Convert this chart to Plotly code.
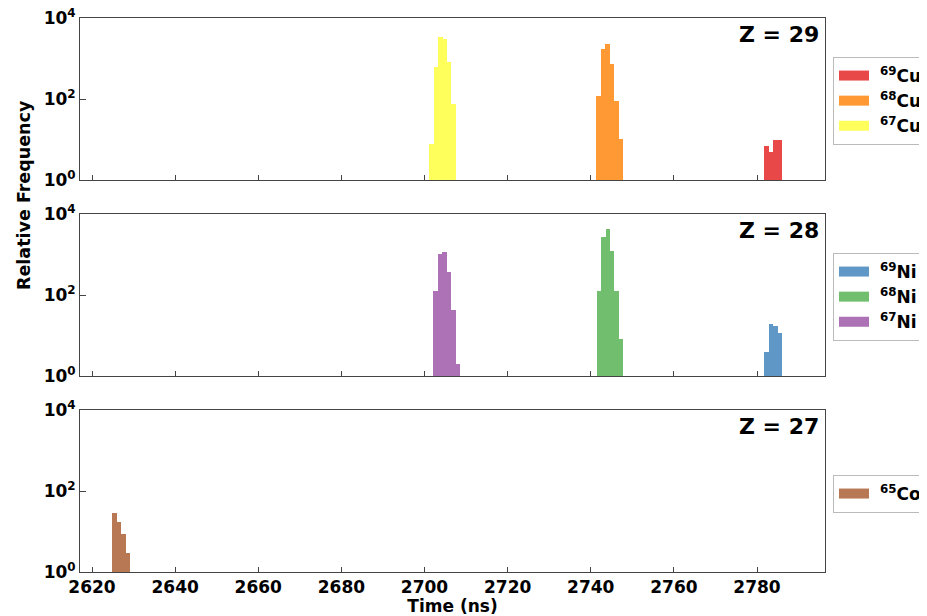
import plotly.graph_objects as go

# ---------------- data (bin centres in ns, counts) ----------------
cu69_t = [2782.24, 2783.32, 2784.41, 2785.49]
cu69_n = [7.0, 5.0, 9.7, 9.7]
cu68_t = [2741.88, 2742.96, 2744.05, 2745.13, 2746.21, 2747.30]
cu68_n = [117, 1718, 2280, 719, 89, 10.1]
cu67_t = [2701.69, 2702.75, 2703.81, 2704.86, 2705.92, 2706.98]
cu67_n = [7.7, 605, 3330, 3030, 805, 75]

ni69_t = [2782.24, 2783.32, 2784.41, 2785.49]
ni69_n = [3.9, 19.2, 17.5, 11.7]
ni68_t = [2741.97, 2743.03, 2744.10, 2745.17, 2746.24, 2747.31]
ni68_n = [128, 2650, 4340, 1240, 128, 8.1]
ni67_t = [2702.66, 2703.74, 2704.83, 2705.91, 2706.99, 2708.08]
ni67_n = [128, 1010, 1150, 363, 42.6, 2.0]

co65_t = [2625.41, 2626.48, 2627.54, 2628.61]
co65_n = [28.1, 17.2, 8.8, 3.0]

x_ticks = [2620, 2640, 2660, 2680, 2700, 2720, 2740, 2760, 2780]
y_ticks = [1, 100, 10000]
y_ticktext = ["10<sup>0</sup>", "10<sup>2</sup>", "10<sup>4</sup>"]
z_labels = ["Z = 29", "Z = 28", "Z = 27"]

# ---------------- styling ----------------
FONT = "DejaVu Sans"
BIN_W = 1.075
AX_COL = "#444444"

panels = [
    [("<sup>69</sup>Cu", cu69_t, cu69_n, "#e94849"),
     ("<sup>68</sup>Cu", cu68_t, cu68_n, "#ff9933"),
     ("<sup>67</sup>Cu", cu67_t, cu67_n, "#ffff5c")],
    [("<sup>69</sup>Ni", ni69_t, ni69_n, "#5f98c6"),
     ("<sup>68</sup>Ni", ni68_t, ni68_n, "#71bf6e"),
     ("<sup>67</sup>Ni", ni67_t, ni67_n, "#ad71b5")],
    [("<sup>65</sup>Co", co65_t, co65_n, "#b87853")],
]

# the page body has an 8px margin, so the figure is laid out 8px smaller
OFF = 8
W, H = 927 - OFF, 616 - OFF
L, T = 80 - OFF, 18 - OFF
R = W - (825 - OFF)
B = H - (572 - OFF)
plot_h = H - T - B
plot_w = W - L - R
panel_px = [(18, 180), (214, 376), (410, 572)]   # in page pixels
legend_top_px = [57, 253, 475]


def py(page_y):
    return (572 - page_y) / plot_h


fig = go.Figure()
layout = dict(
    width=W, height=H,
    margin=dict(l=L, r=R, t=T, b=B, autoexpand=False),
    paper_bgcolor="white", plot_bgcolor="white",
    font=dict(family=FONT, size=17, color="black", weight="bold"),
    bargap=0, barmode="overlay",
    annotations=[],
)

for i, series in enumerate(panels):
    k = "" if i == 0 else str(i + 1)
    xa, ya = "x" + k, "y" + k
    leg = "legend" + k
    for name, t, n, col in series:
        fig.add_trace(go.Bar(x=t, y=n, width=BIN_W, marker=dict(color=col, line=dict(width=0)),
                             xaxis=xa, yaxis=ya, showlegend=False, name=name))
    for name, t, n, col in series:
        fig.add_trace(go.Scatter(x=[None], y=[None], mode="lines", name="&nbsp;" + name,
                                 line=dict(color=col, width=11),
                                 xaxis=xa, yaxis=ya, legend=leg, showlegend=True))
    top, bot = panel_px[i]
    layout["xaxis" + k] = dict(
        domain=[0, 1], anchor=ya, range=[2617.11, 2796.36],
        tickvals=x_ticks, showticklabels=(i == 2),
        ticks="inside", ticklen=5, tickwidth=1, tickcolor=AX_COL,
        showline=True, linecolor=AX_COL, linewidth=1, mirror=True,
        showgrid=False, zeroline=False, automargin=False,
        ticklabeloverflow="allow",
        tickfont=dict(family=FONT, size=17, weight="bold"),
        matches=None if i == 0 else "x",
    )
    layout["yaxis" + k] = dict(
        domain=[py(bot), py(top)], anchor=xa, type="log", range=[0, 4],
        tickvals=y_ticks, ticktext=y_ticktext,
        ticks="inside", ticklen=6, tickwidth=1, tickcolor=AX_COL,
        showline=True, linecolor=AX_COL, linewidth=1, mirror=True,
        showgrid=False, zeroline=False, automargin=False,
        ticklabeloverflow="allow",
        tickfont=dict(family=FONT, size=17, weight="bold"),
    )
    layout[leg] = dict(
        x=(833 - 80) / plot_w, xanchor="left",
        y=py(legend_top_px[i]), yanchor="top",
        bordercolor="#bbbbbb", borderwidth=1, bgcolor="white",
        font=dict(family=FONT, size=17, weight="bold"),
        itemwidth=30, tracegroupgap=0,
    )
    layout["annotations"].append(dict(
        text=z_labels[i], xref=xa + " domain", yref=ya + " domain",
        x=0.994, y=0.99, xanchor="right", yanchor="top", showarrow=False,
        font=dict(family=FONT, size=22, weight="bold"),
    ))

layout["xaxis3"]["title"] = dict(text="Time (ns)", font=dict(family=FONT, size=17, weight="bold"), standoff=2)
layout["annotations"].append(dict(
    text="Relative Frequency", xref="paper", yref="paper",
    x=(24 - 80) / plot_w, y=py(195), textangle=-90,
    xanchor="center", yanchor="middle", showarrow=False,
    font=dict(family=FONT, size=17.5, weight="bold"),
))

fig.update_layout(**layout)
fig.write_html("out.html")
